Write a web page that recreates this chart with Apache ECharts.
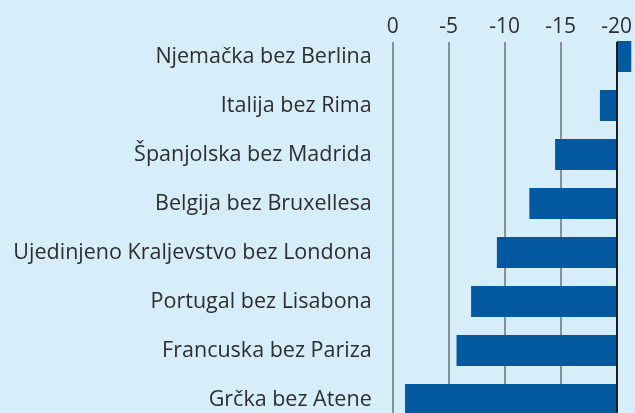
<!DOCTYPE html>
<html>
<head>
<meta charset="utf-8">
<script src="https://cdn.jsdelivr.net/npm/echarts@6/dist/echarts.min.js"></script>
<style>
  html, body { margin: 0; padding: 0; background: #d6edfa; }
  #chart { width: 635px; height: 413px; }
</style>
</head>
<body>
<div id="chart"></div>
<script>
const regions = [
  'Njemačka bez Berlina',
  'Italija bez Rima',
  'Španjolska bez Madrida',
  'Belgija bez Bruxellesa',
  'Ujedinjeno Kraljevstvo bez Londona',
  'Portugal bez Lisabona',
  'Francuska bez Pariza',
  'Grčka bez Atene'
];
const values = [-21.3, -18.5, -14.5, -12.2, -9.3, -7.0, -5.7, -1.1];
const baseline = -20;
const xTicks = [0, -5, -10, -15, -20];

// bars grow from the -20 line: an invisible part up to it, then the visible part
const hidden = values.map(v => Math.max(v, baseline));
const shown = values.map(v => -Math.abs(v - baseline));

const font = '"Open Sans", sans-serif';
const chart = echarts.init(document.getElementById('chart'));

const xCommon = {
  type: 'value',
  inverse: true,
  min: -25,
  max: 0,
  interval: 5
};

chart.setOption({
  backgroundColor: '#d6edfa',
  animation: false,
  grid: [
    { left: 392.7, width: 280, top: 42, height: 382, outerBoundsMode: 'none' },
    { left: 392.7, width: 280, top: 32, height: 392, outerBoundsMode: 'none' }
  ],
  xAxis: [
    Object.assign({}, xCommon, {
      gridIndex: 0,
      position: 'top',
      axisLine: { show: false },
      axisTick: { show: false },
      axisLabel: {
        margin: 4,
        fontFamily: font,
        fontSize: 21,
        color: '#2e2e2e',
        formatter: v => (xTicks.includes(v) ? String(v) : '')
      },
      splitLine: {
        show: true,
        lineStyle: { width: 1.5, color: '#707070' }
      }
    }),
    Object.assign({}, xCommon, {
      gridIndex: 1,
      show: false,
      splitLine: { show: false }
    })
  ],
  yAxis: [
    { type: 'value', gridIndex: 0, show: false, min: 0, max: 1 },
    {
      type: 'category',
      gridIndex: 1,
      inverse: true,
      data: regions,
      axisLine: { show: false },
      axisTick: { show: false },
      splitLine: { show: false },
      axisLabel: {
        margin: 21,
        fontFamily: font,
        fontSize: 21.5,
        color: '#2e2e2e'
      }
    }
  ],
  series: [
    {
      type: 'bar',
      xAxisIndex: 1,
      yAxisIndex: 1,
      stack: 'gap',
      barWidth: 31,
      itemStyle: { color: 'transparent' },
      data: hidden
    },
    {
      type: 'bar',
      xAxisIndex: 1,
      yAxisIndex: 1,
      stack: 'gap',
      barWidth: 31,
      itemStyle: { color: '#0259a0' },
      data: shown
    },
    {
      // dark baseline at -20, on top of the bars
      type: 'line',
      xAxisIndex: 0,
      yAxisIndex: 0,
      z: 5,
      data: [],
      markLine: {
        silent: true,
        symbol: 'none',
        label: { show: false },
        lineStyle: { color: '#1c1c1c', width: 2, type: 'solid' },
        data: [{ xAxis: baseline }]
      }
    }
  ]
});
</script>
</body>
</html>
